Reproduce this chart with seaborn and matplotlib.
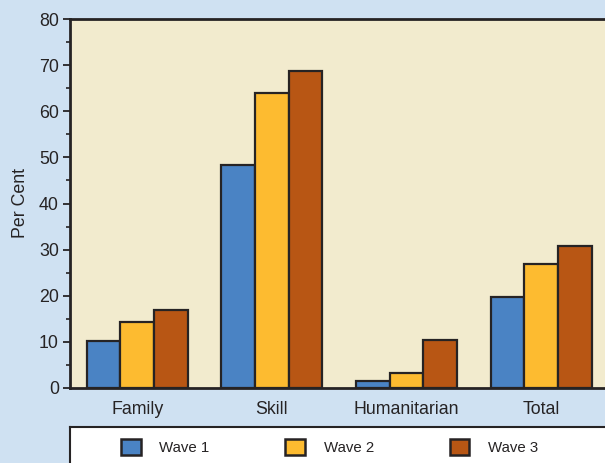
import matplotlib
matplotlib.use("Agg")
import matplotlib.pyplot as plt
import seaborn as sns
import pandas as pd
from matplotlib.ticker import MultipleLocator
from matplotlib.patches import Patch

categories = ["Family", "Skill", "Humanitarian", "Total"]
waves = ["Wave 1", "Wave 2", "Wave 3"]
wave1 = [10.2, 48.4, 1.5, 19.7]
wave2 = [14.3, 64.0, 3.3, 26.9]
wave3 = [16.9, 68.8, 10.4, 30.8]
colors = ["#4A83C4", "#FDBB30", "#B85614"]

rows = []
for w, vals in zip(waves, [wave1, wave2, wave3]):
    for c, v in zip(categories, vals):
        rows.append({"Category": c, "Wave": w, "Value": v})
df = pd.DataFrame(rows)

sns.set_theme(style="white")
plt.rcParams["font.family"] = ["Liberation Sans", "DejaVu Sans"]

INK = "#262324"
fig = plt.figure(figsize=(6.05, 4.63), dpi=100, facecolor="#CFE1F2")
ax = fig.add_axes([70 / 605, 1 - 388 / 463, 538.5 / 605, 369 / 463])
ax.set_facecolor("#F2EBCE")

sns.barplot(data=df, x="Category", y="Value", hue="Wave", palette=colors,
            width=0.75, saturation=1, edgecolor=INK, linewidth=1.6,
            ax=ax, legend=False)

ax.set_xlim(-0.5, 3.5)
ax.set_ylim(0, 80)
ax.yaxis.set_major_locator(MultipleLocator(10))
ax.yaxis.set_minor_locator(MultipleLocator(5))
ax.tick_params(axis="y", which="major", left=True, length=5, width=1.3,
               color=INK, labelsize=12.8, labelcolor=INK, pad=3)
ax.tick_params(axis="y", which="minor", left=True, length=3, width=1.2, color=INK)
ax.tick_params(axis="x", bottom=False, labelsize=12.8, labelcolor=INK, pad=3)
ax.set_xlabel("")
ax.set_ylabel("Per Cent", fontsize=12.8, color=INK, labelpad=7)
for s in ax.spines.values():
    s.set_color(INK)
    s.set_linewidth(2)

# legend box
lax = fig.add_axes([70 / 605, -0.05, 0.94, (463 - 427) / 463 + 0.05])
lax.set_facecolor("white")
lax.set_xticks([])
lax.set_yticks([])
for s in lax.spines.values():
    s.set_color(INK)
    s.set_linewidth(1.5)

handles = [Patch(facecolor=c, edgecolor=INK, linewidth=1.8) for c in colors]
leg = lax.legend(handles, waves, loc="center left",
                 bbox_to_anchor=(121 / 605, 1 - 447 / 463), bbox_transform=fig.transFigure,
                 ncol=3, fontsize=10.8, frameon=False,
                 handlelength=1.3, handleheight=1.3, handletextpad=1.25,
                 columnspacing=5.05, borderaxespad=0, borderpad=0)
for t in leg.get_texts():
    t.set_color(INK)

fig.savefig("out.png", dpi=100, facecolor=fig.get_facecolor())
